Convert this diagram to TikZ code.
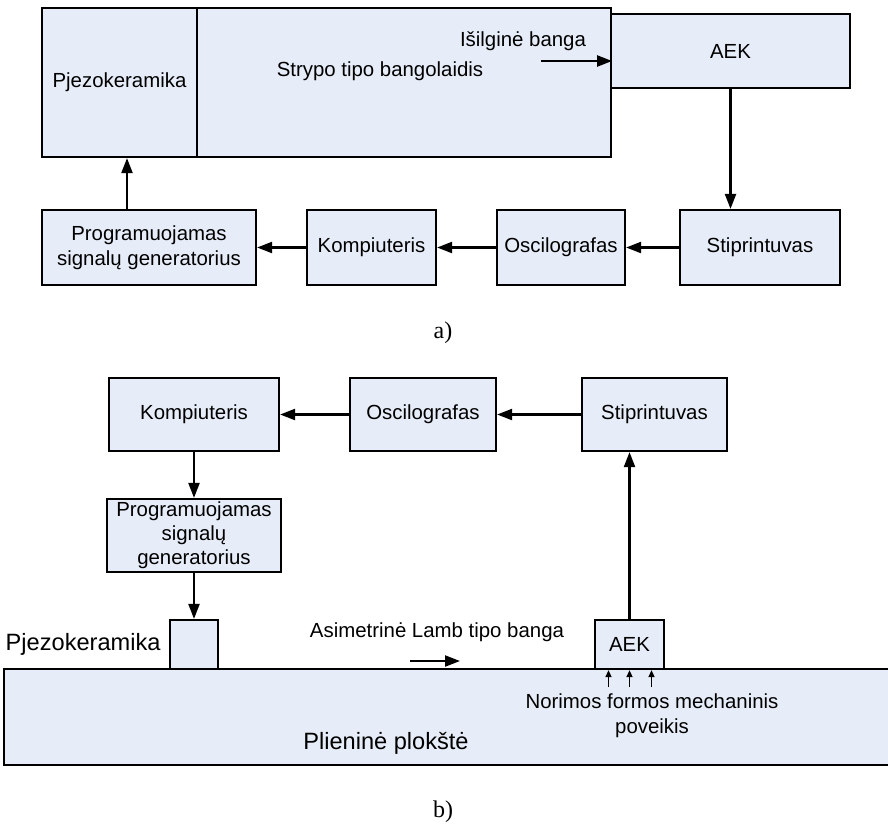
\documentclass[tikz,border=0pt]{standalone}
\usepackage{fontspec}
\setmainfont{Liberation Sans}
\newfontfamily\capfont{Liberation Serif}
\usetikzlibrary{positioning,arrows.meta,calc}
\definecolor{blockfill}{RGB}{231,237,248}

\begin{document}
\begin{tikzpicture}[x=0.5pt,y=-0.5pt,>={Triangle[length=7.5pt,width=5.5pt]},
  block/.style={draw,line width=1.1pt,fill=blockfill,inner sep=0pt,align=center,font=\fontsize{10.2}{12.4}\selectfont},
  lbl/.style={inner sep=0pt,align=center,font=\fontsize{10.2}{12.4}\selectfont},
  biglbl/.style={inner sep=0pt,font=\fontsize{11.8}{14}\selectfont},
  link/.style={->,line width=1.1pt},
  caption/.style={font=\capfont\fontsize{12}{14}\selectfont}]
\useasboundingbox (0,0) rectangle (888,826);

% a) rod waveguide
\node[block,minimum width=77.5pt,minimum height=74.5pt] (piezoA) at (119.5,82.5) {Pjezokeramika};
\node[block,minimum width=207pt,minimum height=74.5pt] (rodA) at (404,82.5) {};
\node[lbl] (rodtxt) at (380,71) {Strypo tipo bangolaidis};
\node[block,minimum width=119.5pt,minimum height=37pt] (aekA) at (730.5,51) {AEK};
\node[lbl] (longwave) at (523,41) {Išilginė banga};
\coordinate (wavestart) at (541,61);
\draw[link] (wavestart) -- (wavestart -| rodA.east);

\node[block,minimum width=107pt,minimum height=37.5pt] (genA) at (149,247.5) {Programuojamas\\signalų generatorius};
\node[block,minimum width=64.5pt,minimum height=37.5pt] (compA) at (371.5,247.5) {Kompiuteris};
\node[block,minimum width=64pt,minimum height=37.5pt] (oscA) at (561,247.5) {Oscilografas};
\node[block,minimum width=80pt,minimum height=37.5pt] (ampA) at (760,247.5) {Stiprintuvas};

\draw[link] (aekA.south) -- (aekA.south |- ampA.north);
\draw[link] (ampA.west) -- (oscA.east);
\draw[link] (oscA.west) -- (compA.east);
\draw[link] (compA.west) -- (genA.east);
\coordinate (genup) at ($(genA.north)+(-22,0)$);
\draw[link] (genup) -- (genup |- piezoA.south);

\node[caption] (capA) at (443,333) {a)};

% b) steel plate
\fill[blockfill] (4,669) rectangle (888,765);
\draw[line width=1.1pt] (888,669) -- (4,669) -- (4,765) -- (888,765);
\node[biglbl] (platetxt) at (386,743) {Plieninė plokštė};

\node[block,minimum width=85pt,minimum height=36.5pt] (compB) at (194,414.5) {Kompiuteris};
\node[block,minimum width=73pt,minimum height=36.5pt] (oscB) at (423,414.5) {Oscilografas};
\node[block,minimum width=72.5pt,minimum height=36.5pt] (ampB) at (654.5,414.5) {Stiprintuvas};
\node[block,minimum width=87pt,minimum height=36.5pt,font=\fontsize{10.2}{12}\selectfont] (genB) at (194,535.5) {Programuojamas\\signalų\\generatorius};
\node[block,minimum width=24pt,minimum height=24.5pt] (piezoB) at (194,644.5) {};
\node[block,minimum width=34.5pt,minimum height=24.5pt] (aekB) at (629.5,644.5) {AEK};
\node[biglbl,left=4pt of piezoB] (piezolbl) {Pjezokeramika};

\node[lbl] (lambtxt) at (437,632) {Asimetrinė Lamb tipo banga};
\coordinate (lambstart) at (410,661);
\coordinate (lambend) at (460,661);
\draw[link] (lambstart) -- (lambend);

\foreach \dx in {-21,0,22} {
  \coordinate (push) at ($(aekB.south)+(\dx,17)$);
  \draw[->,line width=0.7pt,>={Triangle[length=3.5pt,width=3pt]}] (push) -- (push |- aekB.south);
}
\node[lbl,font=\fontsize{10.2}{12.5}\selectfont] (pushtxt) at (652,716) {Norimos formos mechaninis\\poveikis};

\draw[link] (ampB.west) -- (oscB.east);
\draw[link] (oscB.west) -- (compB.east);
\draw[link] (compB.south) -- (genB.north);
\draw[link] (genB.south) -- (piezoB.north);
\draw[link] (aekB.north) -- (aekB.north |- ampB.south);

\node[caption] (capB) at (443,812) {b)};
\end{tikzpicture}
\end{document}
